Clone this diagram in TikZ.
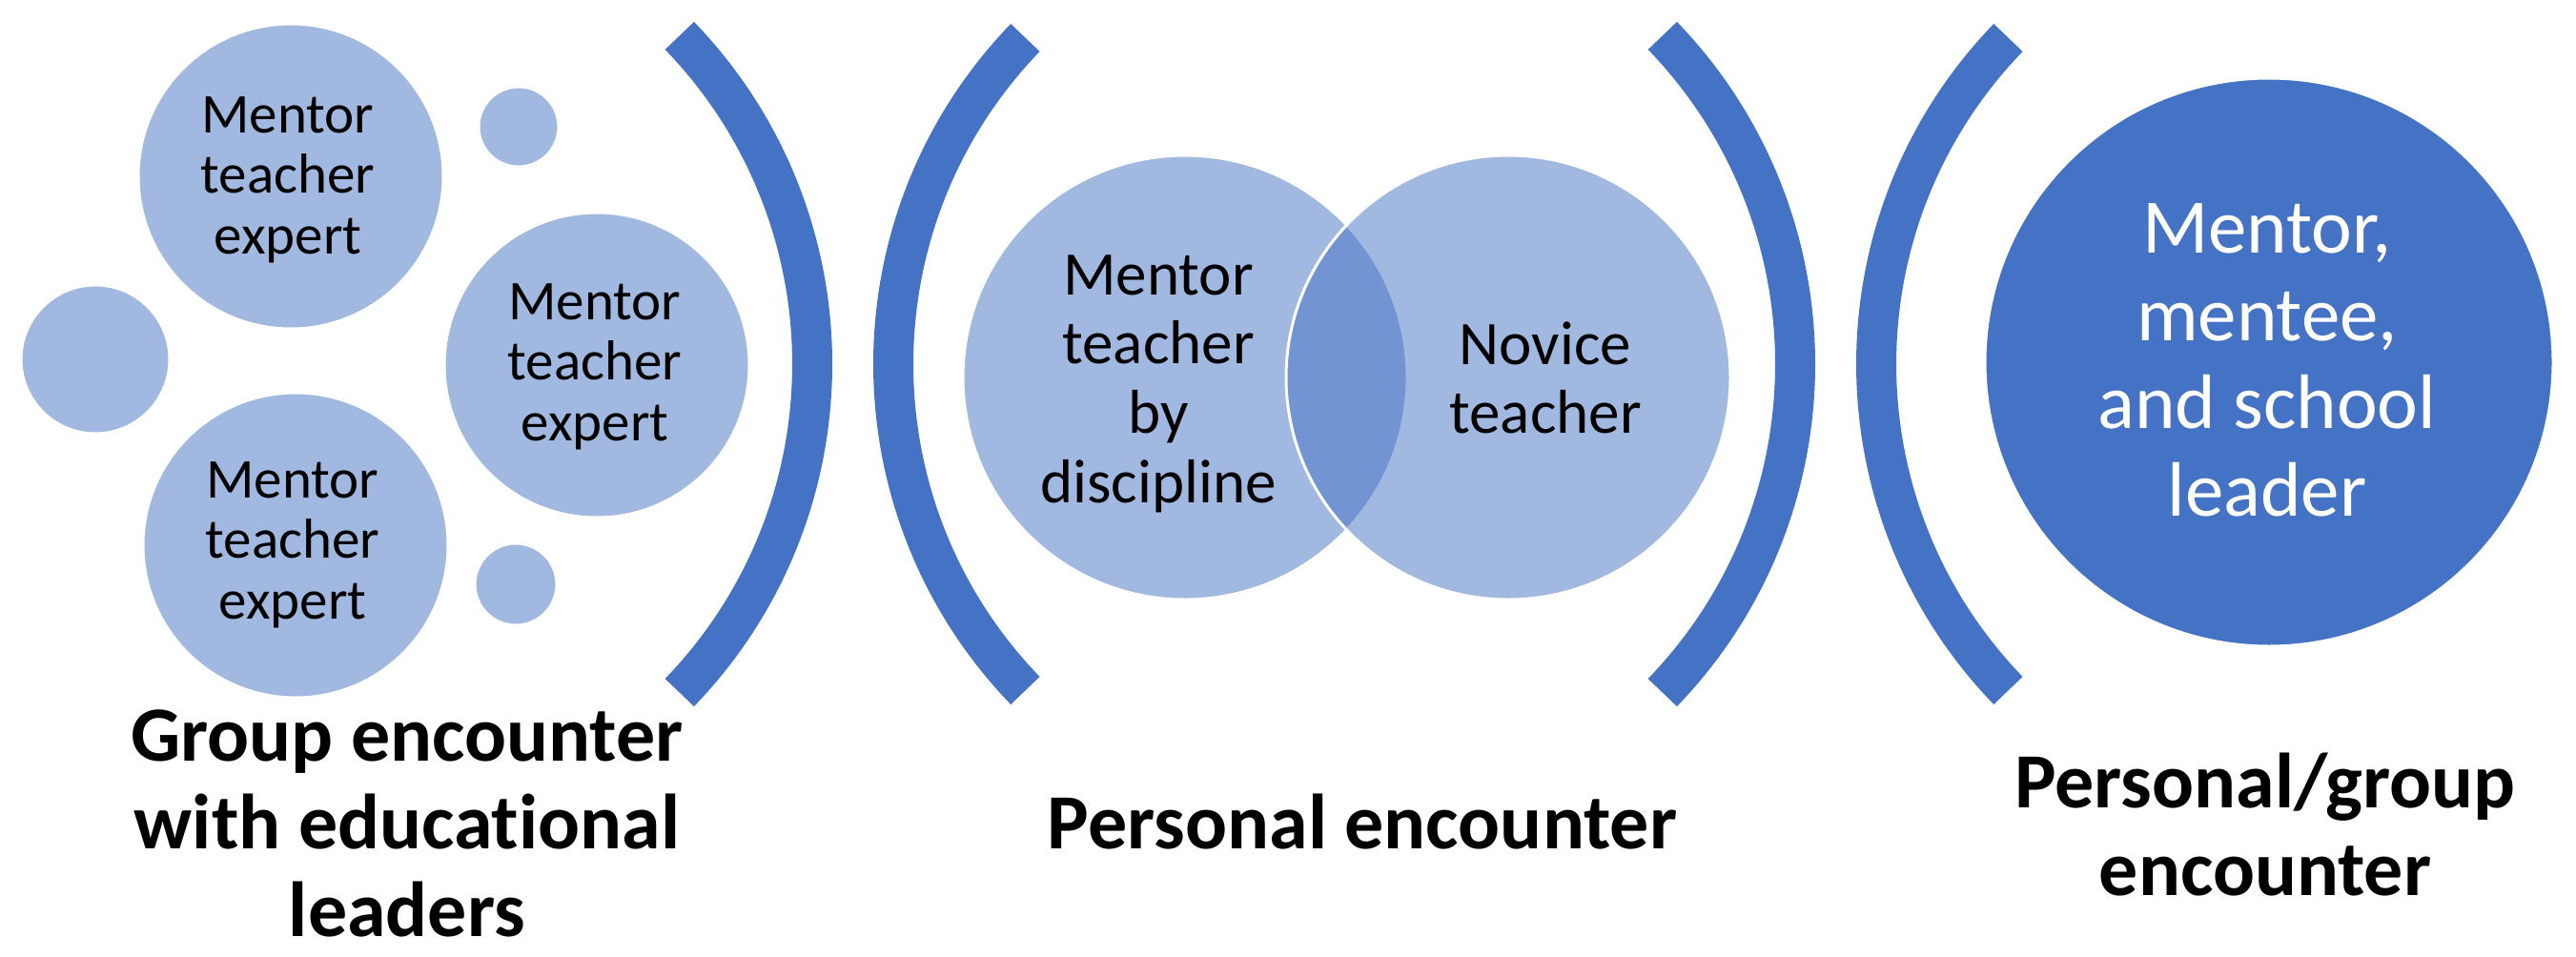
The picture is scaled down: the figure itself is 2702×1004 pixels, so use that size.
\documentclass[tikz,border=0pt]{standalone}
\usepackage{fontspec}
\setmainfont{Carlito}[Ligatures=NoCommon]
\definecolor{accent}{HTML}{4472C4}
\usetikzlibrary{shapes.geometric}
\tikzset{
  ltcirc/.style={circle, inner sep=0pt, fill=accent, fill opacity=0.5, draw=white, line width=3pt},
  dkcirc/.style={circle, inner sep=0pt, fill=accent, draw=white, line width=3pt},
  bracket/.style={draw=accent, line width=42pt, line cap=butt},
  txt/.style={anchor=base, inner sep=0pt, text=black},
}
\begin{document}
\begin{tikzpicture}[x=1pt,y=-1pt]
\useasboundingbox[fill=white] (0,0) rectangle (2702,1004);

% left group
\node[ltcirc, minimum size=320pt] (c1) at (305,185) {};
\node[ltcirc, minimum size=320pt] (c2) at (626,383) {};
\node[ltcirc, minimum size=320pt] (c3) at (310,572) {};
\node[ltcirc, minimum size=84pt] (s1) at (544,133) {};
\node[ltcirc, minimum size=156pt] (s2) at (100,377) {};
\node[ltcirc, minimum size=86pt] (s3) at (541,613) {};

\node[txt, font=\fontsize{59}{63.5}\selectfont] (t1) at (302,139) {\parbox[t]{300pt}{\centering Mentor\\teacher\\expert}};
\node[txt, font=\fontsize{59}{63.5}\selectfont] (t2) at (624,335) {\parbox[t]{300pt}{\centering Mentor\\teacher\\expert}};
\node[txt, font=\fontsize{59}{63.5}\selectfont] (t3) at (307,522) {\parbox[t]{300pt}{\centering Mentor\\teacher\\expert}};

% brackets
\draw[bracket] ([shift={(-44:496)}]356,382) arc[start angle=-44, end angle=44, radius=496];
\draw[bracket] ([shift={(136:493)}]1430,382) arc[start angle=136, end angle=224, radius=493];
\draw[bracket] ([shift={(-44:496)}]1387,382) arc[start angle=-44, end angle=44, radius=496];
\draw[bracket] ([shift={(136:493)}]2461,382) arc[start angle=136, end angle=224, radius=493];

% Venn
\node[ltcirc, minimum size=466pt] (v1) at (1243,396) {};
\node[ltcirc, minimum size=466pt] (v2) at (1582,396) {};
\node[txt, font=\fontsize{65}{72.7}\selectfont] (tv1) at (1215,309) {\parbox[t]{400pt}{\centering Mentor\\teacher\\by\\discipline}};
\node[txt, font=\fontsize{65}{72.7}\selectfont] (tv2) at (1621,382) {\parbox[t]{400pt}{\centering Novice\\teacher}};

% dark circle
\node[dkcirc, minimum size=596pt] (d) at (2380,380) {};
\node[txt, text=white, font=\fontsize{81}{92}\selectfont] (td) at (2378,265) {\parbox[t]{500pt}{\centering Mentor,\\mentee,\\and school\\leader}};

% bottom labels
\node[txt, font=\bfseries\fontsize{82}{92}\selectfont] (l1) at (427,798) {\parbox[t]{800pt}{\centering Group encounter\\with educational\\leaders}};
\node[txt, font=\bfseries\fontsize{82}{92}\selectfont] (l2) at (1429,890) {Personal encounter};
\node[txt, font=\bfseries\fontsize{82}{92}\selectfont] (l3) at (2376,847) {\parbox[t]{800pt}{\centering Personal/group\\encounter}};
\end{tikzpicture}
\end{document}
